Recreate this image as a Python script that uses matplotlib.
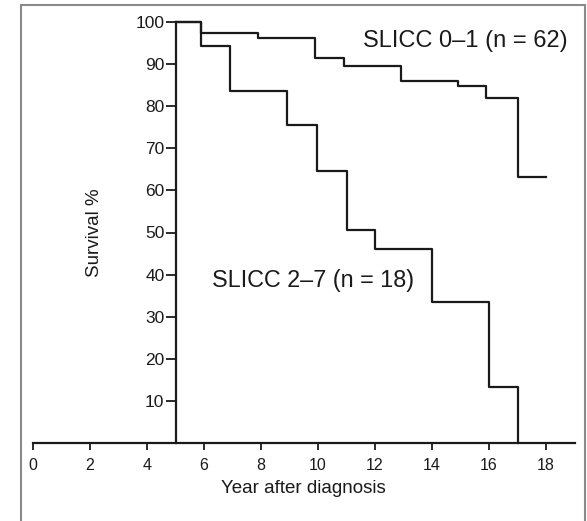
import matplotlib.pyplot as plt
from matplotlib.patches import Rectangle

plt.rcParams['font.family'] = ['Liberation Sans', 'DejaVu Sans']

# SLICC 0-1 (n = 62)
t_low = [5, 5.9, 7.9, 9.9, 10.9, 12.9, 14.9, 15.9, 17, 18]
s_low = [100, 97.4, 96.2, 91.4, 89.5, 86, 84.8, 81.9, 63.3, 63.3]

# SLICC 2-7 (n = 18)
t_high = [5, 5.9, 6.9, 8.9, 9.95, 11, 12, 14, 16, 17]
s_high = [100, 94.3, 83.6, 75.5, 64.5, 50.7, 46, 33.6, 13.3, 0]

xticks = list(range(0, 19, 2))
yticks = list(range(10, 101, 10))

fig = plt.figure(figsize=(5.87, 5.21), dpi=100)
ax = fig.add_axes([33 / 587, 1 - 443 / 521, 541.5 / 587, 421 / 521])

col = '#1a1a1a'
ax.step(t_low, s_low, where='post', color=col, lw=1.6, clip_on=False)
ax.step(t_high, s_high, where='post', color=col, lw=1.6, clip_on=False)

ax.set_xlim(0, 19)
ax.set_ylim(0, 100)
ax.spines['top'].set_visible(False)
ax.spines['right'].set_visible(False)
ax.spines['left'].set_position(('data', 5))
for s in ('left', 'bottom'):
    ax.spines[s].set_linewidth(1.6)
    ax.spines[s].set_color(col)

ax.set_xticks(xticks)
ax.set_yticks(yticks)
ax.tick_params(axis='x', length=5, width=1.3, pad=6, labelsize=11.5, colors=col)
ax.tick_params(axis='y', length=7, width=1.3, pad=1, labelsize=12.5, colors=col)

ax.set_xlabel('Year after diagnosis', fontsize=13.5, labelpad=5, color=col)
fig.text(95 / 587, 1 - 233 / 521, 'Survival %', rotation=90, fontsize=13.5,
         ha='center', va='center', color=col)

ax.text(11.58, 95.5, 'SLICC 0\u20131 (n = 62)', fontsize=17, va='center', color=col)
ax.text(6.28, 38.6, 'SLICC 2\u20137 (n = 18)', fontsize=16.8, va='center', color=col)

# light frame around the figure
fig.patches.append(Rectangle((21 / 587, -0.05), 564 / 587, 1.05 - 5 / 521,
                             transform=fig.transFigure, fill=False,
                             edgecolor='#8a8a8a', lw=1.5))

fig.savefig('out.png', dpi=100)
